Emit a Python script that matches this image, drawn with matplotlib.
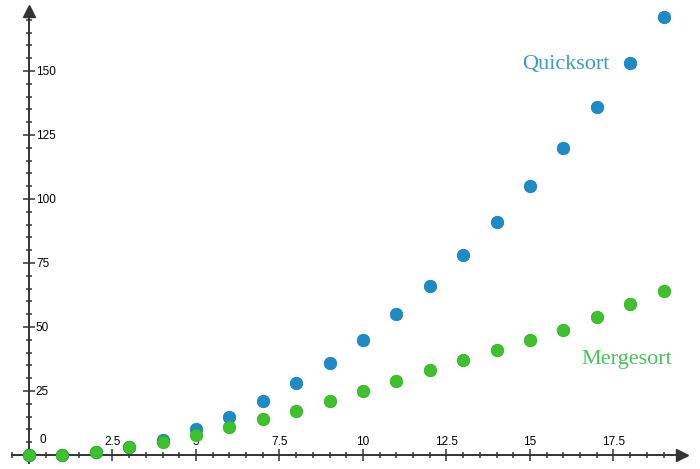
import matplotlib
matplotlib.use('Agg')
import matplotlib.pyplot as plt
from matplotlib.ticker import FixedLocator
import numpy as np

plt.rcParams['font.family'] = ['Liberation Sans', 'DejaVu Sans']

n = list(range(20))
quicksort = [0, 0, 1, 3, 6, 10, 15, 21, 28, 36, 45, 55, 66, 78, 91, 105, 120, 136, 153, 171]
mergesort = [0, 0, 1, 3, 5, 8, 11, 14, 17, 21, 25, 29, 33, 37, 41, 45, 49, 54, 59, 64]

x_ticks = [2.5, 5, 7.5, 10, 12.5, 15, 17.5]
y_ticks = [25, 50, 75, 100, 125, 150]

blue = '#1c8bc7'
green = '#3dc22c'
axis_col = '#333333'

fig = plt.figure(figsize=(7.0, 4.69), dpi=100)
ax = fig.add_axes([0, 0, 1, 1])
ax.set_xlim(-0.868, 20.09)
ax.set_ylim(-5.47, 177.7)

for s in ['left', 'bottom']:
    ax.spines[s].set_visible(False)
ax.spines['right'].set_position(('data', 0))
ax.spines['top'].set_position(('data', 0))
ax.spines['right'].set_bounds(-3.2, 172)
ax.spines['top'].set_bounds(-0.5, 19.4)
for s in ['right', 'top']:
    ax.spines[s].set_color(axis_col)
    ax.spines[s].set_linewidth(1.4)

ax.xaxis.set_ticks_position('top')
ax.yaxis.set_ticks_position('right')
ax.set_xticks(x_ticks)
ax.set_yticks(y_ticks)
ax.xaxis.set_minor_locator(FixedLocator(np.arange(-0.5, 19.6, 0.5)))
ax.yaxis.set_minor_locator(FixedLocator(np.arange(5, 171, 5)))
ax.tick_params(which='major', direction='inout', length=8, width=1.1, color=axis_col,
               labelsize=8.5, pad=1)
ax.tick_params(which='minor', direction='inout', length=4, width=1.1, color=axis_col)
ax.tick_params(axis='y', which='major', pad=1)
ax.set_xticklabels([str(t) for t in x_ticks])
ax.set_yticklabels([str(t) for t in y_ticks])
ax.text(0.42, 3.4, '0', fontsize=8.5, ha='center', va='bottom')

# arrow heads
ax.plot([19.55], [0], marker='>', markersize=8, color=axis_col, clip_on=False)
ax.plot([0], [173.5], marker='^', markersize=8, color=axis_col, clip_on=False)

ax.scatter(n, quicksort, s=80, color=blue, edgecolors='#1a7fb8', linewidths=0.6, zorder=3, clip_on=False)
ax.scatter(n, mergesort, s=80, color=green, edgecolors='#34b024', linewidths=0.6, zorder=4, clip_on=False)

ax.text(17.37, 152.5, 'Quicksort', color='#3b9ac9', fontsize=16, family='Liberation Serif',
        ha='right', va='center')
ax.text(19.27, 37.4, 'Mergesort', color='#48c457', fontsize=16, family='Liberation Serif',
        ha='right', va='center')

fig.savefig('out.png', dpi=100)
